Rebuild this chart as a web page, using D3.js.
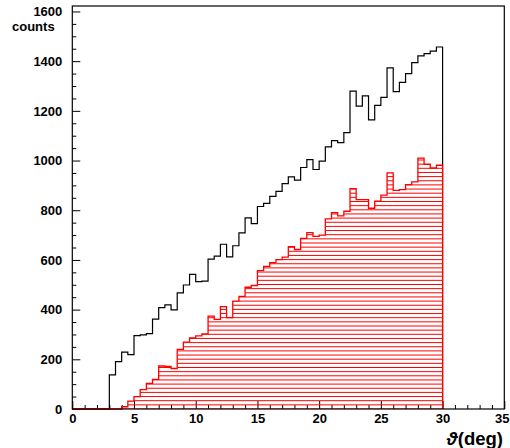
<!DOCTYPE html>
<html>
<head>
<meta charset="utf-8">
<script src="https://cdn.jsdelivr.net/npm/d3@7"></script>
<style>
  html, body { margin: 0; padding: 0; background: #fff; }
  svg { display: block; }
  text { font-family: "Liberation Sans", Arial, Helvetica, sans-serif; fill: #000; }
</style>
</head>
<body>
<svg id="chart" width="510" height="448"></svg>
<script>
// Polar-angle histogram, 0.5 deg bins from 0 to 30 deg.
const binEdgesLow = [
  0.0, 0.5, 1.0, 1.5, 2.0, 2.5, 3.0, 3.5, 4.0, 4.5,
  5.0, 5.5, 6.0, 6.5, 7.0, 7.5, 8.0, 8.5, 9.0, 9.5,
  10.0, 10.5, 11.0, 11.5, 12.0, 12.5, 13.0, 13.5, 14.0, 14.5,
  15.0, 15.5, 16.0, 16.5, 17.0, 17.5, 18.0, 18.5, 19.0, 19.5,
  20.0, 20.5, 21.0, 21.5, 22.0, 22.5, 23.0, 23.5, 24.0, 24.5,
  25.0, 25.5, 26.0, 26.5, 27.0, 27.5, 28.0, 28.5, 29.0, 29.5
];
const binWidth = 0.5;

// All events
const allCounts = [
  0, 0, 0, 0, 0, 0, 137, 191, 229, 219,
  295, 298, 303, 362, 408, 419, 399, 467, 499, 542,
  513, 515, 603, 615, 663, 612, 657, 709, 769, 746,
  815, 828, 856, 876, 907, 934, 921, 972, 1004, 964,
  998, 1055, 1080, 1072, 1112, 1279, 1219, 1260, 1164, 1222,
  1254, 1373, 1277, 1315, 1350, 1394, 1421, 1430, 1440, 1457
];

// Selected events (hatched)
const selectedCounts = [
  0, 0, 0, 0, 0, 0, 0, 0, 9, 32,
  50, 78, 103, 119, 173, 171, 163, 240, 269, 286,
  294, 302, 374, 361, 412, 368, 434, 453, 490, 497,
  557, 574, 589, 601, 611, 653, 642, 687, 710, 695,
  700, 765, 790, 777, 796, 887, 843, 843, 808, 837,
  861, 950, 880, 883, 903, 914, 1010, 985, 970, 981
];

const xMajorTicks = [0, 5, 10, 15, 20, 25, 30, 35];
const yMajorTicks = [0, 200, 400, 600, 800, 1000, 1200, 1400, 1600];
const xDomain = [0, 35];
const yDomain = [0, 1622];
const xTitle = "(deg)";
const xTitleSymbol = "\u03D1";
const yTitle = "counts";

const svg = d3.select("#chart");
const x = d3.scaleLinear().domain(xDomain).range([72.3, 504.3]);
const y = d3.scaleLinear().domain(yDomain).range([409, 6]);

// Step outline of a histogram, closed to the baseline at both ends.
function stepPath(counts) {
  const p = d3.path();
  p.moveTo(x(binEdgesLow[0]), y(0));
  counts.forEach((c, i) => {
    const lo = binEdgesLow[i], hi = lo + binWidth;
    p.lineTo(x(lo), y(c));
    p.lineTo(x(hi), y(c));
  });
  const last = binEdgesLow[binEdgesLow.length - 1] + binWidth;
  p.lineTo(x(last), y(0));
  return p.toString();
}

// Axes: ticks point into the frame
const yMinor = d3.range(0, 1601, 50).filter(v => v % 200 !== 0);
const xMinor = d3.range(0, 36, 1).filter(v => v % 5 !== 0);

svg.append("g")
  .attr("transform", `translate(${x(0)},0)`)
  .call(d3.axisLeft(y).tickValues(yMinor).tickSize(-4).tickFormat(""))
  .call(g => g.select(".domain").remove())
  .selectAll("line").attr("stroke", "#000");

svg.append("g")
  .attr("transform", `translate(0,${y(0)})`)
  .call(d3.axisBottom(x).tickValues(xMinor).tickSize(-4).tickFormat(""))
  .call(g => g.select(".domain").remove())
  .selectAll("line").attr("stroke", "#000");

const yAxis = svg.append("g")
  .attr("transform", `translate(${x(0)},0)`)
  .call(d3.axisLeft(y).tickValues(yMajorTicks).tickSize(-8).tickPadding(10).tickFormat(d3.format("d")));
yAxis.select(".domain").remove();
yAxis.selectAll("line").attr("stroke", "#000");
yAxis.selectAll("text")
  .attr("font-size", 13).attr("font-weight", "bold")
  .attr("font-family", "Liberation Sans, Arial, sans-serif");

const xAxis = svg.append("g")
  .attr("transform", `translate(0,${y(0)})`)
  .call(d3.axisBottom(x).tickValues(xMajorTicks).tickSize(-8).tickPadding(5).tickFormat(d3.format("d")));
xAxis.select(".domain").remove();
xAxis.selectAll("line").attr("stroke", "#000");
xAxis.selectAll("text")
  .attr("font-size", 13).attr("font-weight", "bold")
  .attr("font-family", "Liberation Sans, Arial, sans-serif")
  // keep the last label inside the page edge
  .attr("dx", d => d === xDomain[1] ? -2.5 : 0);

// All-events histogram
svg.append("path")
  .attr("d", stepPath(allCounts))
  .attr("fill", "none")
  .attr("stroke", "#000")
  .attr("stroke-width", 1.2);

// Selected histogram: horizontal hatching clipped to its area
const selPath = stepPath(selectedCounts) + "Z";
svg.append("clipPath").attr("id", "selClip")
  .append("path").attr("d", selPath);

const hatchStep = 4.15;
const hatchYs = d3.range(y(0), y(d3.max(selectedCounts)) - hatchStep, -hatchStep);
svg.append("g")
  .attr("clip-path", "url(#selClip)")
  .selectAll("line")
  .data(hatchYs)
  .join("line")
  .attr("x1", x(0)).attr("x2", x(30))
  .attr("y1", d => d).attr("y2", d => d)
  .attr("stroke", "#ff0000")
  .attr("stroke-width", 1);

svg.append("path")
  .attr("d", stepPath(selectedCounts))
  .attr("fill", "none")
  .attr("stroke", "#ff0000")
  .attr("stroke-width", 1.3);

// Frame
svg.append("rect")
  .attr("x", x(xDomain[0])).attr("y", y(yDomain[1]))
  .attr("width", x(xDomain[1]) - x(xDomain[0]))
  .attr("height", y(yDomain[0]) - y(yDomain[1]))
  .attr("fill", "none")
  .attr("stroke", "#000")
  .attr("stroke-width", 1.2);

// Titles
svg.append("text")
  .attr("x", 12).attr("y", 30.5)
  .attr("font-size", 13).attr("font-weight", "bold")
  .text(yTitle);

const xt = svg.append("text")
  .attr("x", 503).attr("y", 445)
  .attr("text-anchor", "end")
  .attr("font-size", 18.5).attr("font-weight", "bold");
xt.append("tspan").attr("font-style", "italic").text(xTitleSymbol);
xt.append("tspan").text(xTitle);
</script>
</body>
</html>
